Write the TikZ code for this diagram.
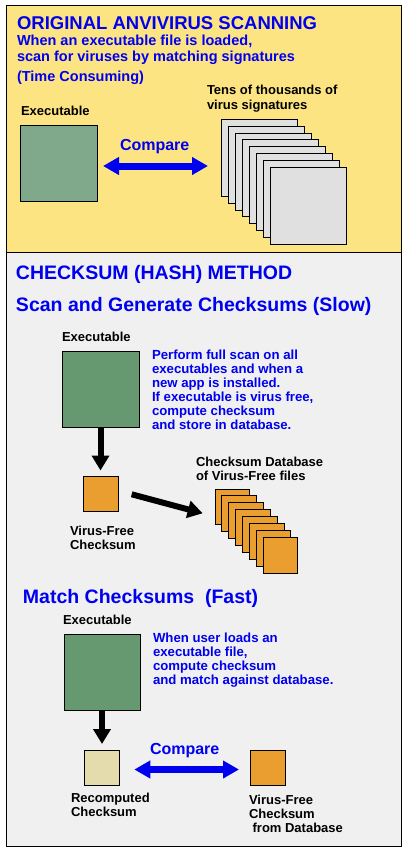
\documentclass[tikz,border=0pt]{standalone}
\usepackage{fontspec}
\setmainfont{Liberation Sans}
\usetikzlibrary{arrows.meta}
\definecolor{panelY}{RGB}{253,228,130}
\definecolor{panelG}{RGB}{240,240,240}
\definecolor{greenA}{RGB}{128,168,138}
\definecolor{greenB}{RGB}{102,153,112}
\definecolor{pageG}{RGB}{224,224,224}
\definecolor{orangeC}{RGB}{235,158,48}
\definecolor{beigeC}{RGB}{229,220,174}
\definecolor{blueT}{RGB}{0,0,240}
\newcommand\mylines[1]{\begin{tabular}[t]{@{}l@{}}#1\end{tabular}}
\tikzset{
  txt/.style={anchor=base west, inner sep=0pt, outer sep=0pt},
  title/.style={txt, text=blueT, font=\fontsize{18.5}{20}\selectfont\bfseries},
  head/.style={txt, text=blueT, font=\fontsize{19.5}{20}\selectfont\bfseries},
  sub/.style={txt, text=blueT, font=\fontsize{14.5}{16}\selectfont\bfseries},
  para/.style={txt, text=blueT, font=\fontsize{13.2}{14}\selectfont\bfseries},
  lbl/.style={txt, text=black, font=\fontsize{13}{14}\selectfont\bfseries},
  cmp/.style={txt, text=blueT, font=\fontsize{16}{18}\selectfont\bfseries},
  box/.style={draw=black, line width=1pt, anchor=north west, inner sep=0pt, outer sep=0pt},
  bigbox/.style={box, minimum width=77pt, minimum height=76pt},
  smallbox/.style={box, minimum width=35pt, minimum height=35pt},
  dblarrow/.style={draw=blueT, line width=7pt, {Triangle[width=17pt,length=16pt]}-{Triangle[width=17pt,length=16pt]}},
  blkarrow/.style={draw=black, line width=6pt, -{Triangle[width=17pt,length=15pt]}},
}
\begin{document}
\begin{tikzpicture}[x=1pt,y=-1pt]
\useasboundingbox (0,0) rectangle (406,851);
\fill[white] (0,0) rectangle (406,851);
% panels
\draw[fill=panelY, line width=1pt] (6,6) rectangle (401,252);
\draw[fill=panelG, line width=1pt] (6,252) rectangle (401,846);

% ---- panel 1
\node[title] (t1) at (17,29.5) {ORIGINAL ANVIVIRUS SCANNING};
\node[sub] (s1) at (17,45.5) {\mylines{When an executable file is loaded,\\scan for viruses by matching signatures}};
\node[sub] (s2) at (17,81.7) {(Time Consuming)};
\node[lbl] (l1) at (21,115) {Executable};
\node[bigbox, fill=greenA] (exe1) at (20,125) {};
\node[cmp] (cmp1) at (120,150) {Compare};
\node[lbl] (tens) at (207,95) {\mylines{Tens of thousands of\\virus signatures}};
\foreach \i in {0,...,7}
  \node[box, fill=pageG, minimum width=76pt, minimum height=77pt] (sig\i) at ({221+7*\i},{119.3+6.86*\i}) {};
\coordinate (cmpL) at (103,166);
\coordinate (cmpR) at (208,166);
\draw[dblarrow] (cmpL) -- (cmpR);

% ---- panel 2
\node[head] (h2) at (16,279.3) {CHECKSUM (HASH) METHOD};
\node[head] (h3) at (16,311) {Scan and Generate Checksums (Slow)};
\node[lbl] (l2) at (62,341) {Executable};
\node[bigbox, fill=greenB] (exe2) at (62,351) {};
\node[para] (p2) at (152,359) {\mylines{Perform full scan on all\\executables and when a\\new app is installed.\\If executable is virus free,\\compute checksum\\and store in database.}};
\node[smallbox, fill=orangeC] (vf) at (83,476.5) {};
\node[lbl] (vfl) at (70,535) {\mylines{Virus-Free\\Checksum}};
\node[lbl] (dbl) at (196,466.7) {\mylines{Checksum Database\\of Virus-Free files}};
\foreach \i in {0,...,7}
  \node[box, fill=orangeC, minimum width=34.5pt, minimum height=35.5pt] (db\i) at ({215+6.9*\i},{489+6.96*\i}) {};
\draw[blkarrow] (exe2.south) -- ([yshift=6pt]vf.north);
\coordinate (d1) at (131.7,494.3);
\coordinate (d2) at (202.7,513.3);
\draw[blkarrow] (d1) -- (d2);

% ---- panel 3
\node[head] (h4) at (23,603.3) {Match Checksums\ \ (Fast)};
\node[lbl] (l3) at (63,624.3) {Executable};
\node[bigbox, fill=greenB, minimum width=76pt] (exe3) at (64,634) {};
\node[para] (p3) at (153,642.3) {\mylines{When user loads an\\executable file,\\compute checksum\\and match against database.}};
\node[smallbox, fill=beigeC] (rc) at (84,750) {};
\draw[blkarrow] (exe3.south) -- ([yshift=6pt]exe3.south |- rc.north);
\node[lbl] (rcl) at (71,802.3) {\mylines{Recomputed\\Checksum}};
\node[cmp] (cmp2) at (150,754) {Compare};
\node[smallbox, fill=orangeC] (vf2) at (250,750) {};
\node[lbl] (vf2l) at (249,804) {\mylines{Virus-Free\\Checksum\\\ from Database}};
\coordinate (c2L) at (134.3,769.5);
\coordinate (c2R) at (239,769.5);
\draw[dblarrow] (c2L) -- (c2R);
\end{tikzpicture}
\end{document}
